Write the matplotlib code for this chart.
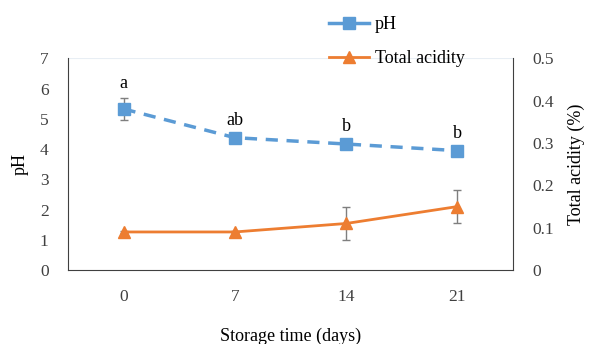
import matplotlib
matplotlib.use('Agg')
import matplotlib.pyplot as plt
from matplotlib.lines import Line2D

plt.rcParams['font.family'] = ['Liberation Serif', 'DejaVu Serif']

days = ['0', '7', '14', '21']
ph = [5.33, 4.38, 4.17, 3.95]
ph_err = [0.37, 0.10, 0.10, 0.08]
ph_letters = ['a', 'ab', 'b', 'b']
acidity = [0.09, 0.09, 0.11, 0.15]
acidity_err = [0.003, 0.002, 0.04, 0.04]

blue = '#5B9BD5'
orange = '#ED7D31'
x = range(len(days))

fig = plt.figure(figsize=(5.91, 3.44), dpi=100)
ax = fig.add_axes([0.115, 0.215, 0.753, 0.615])
ax2 = ax.twinx()

ax.errorbar(x, ph, yerr=ph_err, color=blue, ls=(0, (3.5, 2.5)), lw=2.5,
            marker='s', ms=8, ecolor='#7f7f7f', elinewidth=1, capsize=3)
ax2.errorbar(x, acidity, yerr=acidity_err, color=orange, lw=2,
             marker='^', ms=9, ecolor='#7f7f7f', elinewidth=1, capsize=3)

for i, t in enumerate(ph_letters):
    ax.text(i, ph[i] + ph_err[i] + 0.2, t, ha='center', va='bottom', fontsize=13)

ax.set_xlim(-0.5, 3.5)
ax.set_ylim(0, 7)
ax2.set_ylim(0, 0.5)
ax.set_yticks(range(0, 8))
ax2.set_yticks([0, 0.1, 0.2, 0.3, 0.4, 0.5])
ax2.set_yticklabels(['0', '0.1', '0.2', '0.3', '0.4', '0.5'])
ax.set_xticks(list(x))
ax.set_xticklabels(days)
ax.axhline(7, color='#e8eef4', lw=0.8)

for a in (ax, ax2):
    a.spines['top'].set_visible(False)
    a.tick_params(length=0, labelsize=12.5, colors='#404040')
ax.spines['right'].set_visible(False)
ax2.spines['left'].set_visible(False)
ax.spines['left'].set_color('#404040')
ax.spines['bottom'].set_color('#404040')
ax2.spines['right'].set_color('#404040')
ax2.spines['bottom'].set_visible(False)
ax.tick_params(axis='x', pad=14)
ax.tick_params(axis='y', pad=14)
ax2.tick_params(axis='y', pad=14)

ax.set_ylabel('pH', fontsize=13, labelpad=8)
ax2.set_ylabel('Total acidity (%)', fontsize=13, labelpad=10)
ax.set_xlabel('Storage time (days)', fontsize=13, labelpad=16)

handles = [Line2D([], [], color=blue, lw=2.5, marker='s', ms=8, label='pH'),
           Line2D([], [], color=orange, lw=2, marker='^', ms=9, label='Total acidity')]
fig.legend(handles=handles, loc='upper left', bbox_to_anchor=(0.53, 1.0),
           frameon=False, fontsize=13, handlelength=2.2, labelspacing=0.95,
           handletextpad=0.3)

fig.savefig('out.png', dpi=100)
